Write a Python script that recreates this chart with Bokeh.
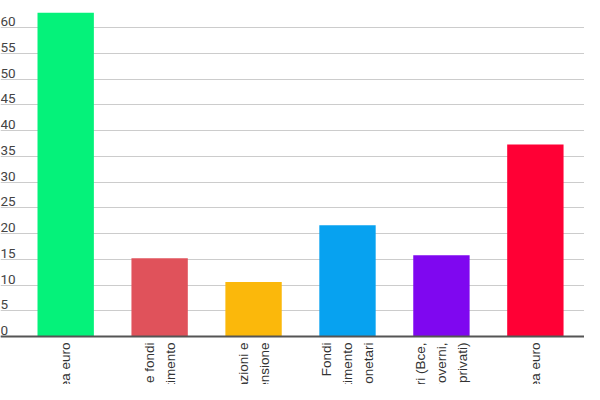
from bokeh.plotting import figure
from bokeh.models import ColumnDataSource, Range1d, FixedTicker, Span
from bokeh.core.properties import value
from bokeh.embed import file_html
from bokeh.resources import INLINE

# ---- data ----
categories = [
    "Banche area euro",
    "Banche e fondi\ndi investimento",
    "Assicurazioni e\nfondi pensione",
    "Fondi\ndi investimento\nmonetari",
    "Altri (Bce,\ngoverni,\nprivati)",
    "Fuori area euro",
]
values = [62.9, 15.2, 10.6, 21.6, 15.8, 37.3]
colors = ["#05F27A", "#E0525B", "#FBB80B", "#07A2F0", "#7F07F0", "#FF0035"]
y_ticks = [0, 5, 10, 15, 20, 25, 30, 35, 40, 45, 50, 55, 60]
y_tick_labels = [str(t) for t in y_ticks]

xpos = [i + 0.5 for i in range(len(categories))]

p = figure(width=584, height=384, output_backend="svg", toolbar_location=None,
           x_range=Range1d(-0.194, 6.023), y_range=Range1d(-9.33, 65.3),
           min_border=0, min_border_left=0, min_border_right=0,
           min_border_top=0, min_border_bottom=0)
p.xaxis.visible = False
p.yaxis.visible = False
p.xgrid.visible = False
p.outline_line_color = None
p.background_fill_color = "white"
p.border_fill_color = "white"

p.ygrid.ticker = FixedTicker(ticks=y_ticks)
p.ygrid.grid_line_color = "#cccccc"
p.ygrid.grid_line_width = 1

src = ColumnDataSource(dict(x=xpos, top=values, color=colors, label=categories))
p.vbar(x="x", top="top", bottom=0, width=0.6, fill_color="color",
       line_color=None, source=src)

# baseline axis
p.add_layout(Span(location=0, dimension="width", line_color="#555555", line_width=2))

# y tick labels (drawn inside the plot, above gridlines)
ysrc = ColumnDataSource(dict(x=[-0.194] * len(y_ticks), y=y_ticks, t=y_tick_labels))
p.text(x="x", y="y", text="t", source=ysrc, text_align="left", text_baseline="alphabetic",
       y_offset=-6, text_font=value("Roboto"), text_font_size="13.5px",
       text_color="#444444")

# category labels, rotated
p.text(x="x", y=0, text="label", source=src, angle=1.5707963, text_align="right",
       text_baseline="middle", y_offset=6, text_font=value("Liberation Sans"),
       text_font_size="13.5px", text_line_height=1.4, text_color="#333333")

open("out.html", "w").write(file_html(p, INLINE))
